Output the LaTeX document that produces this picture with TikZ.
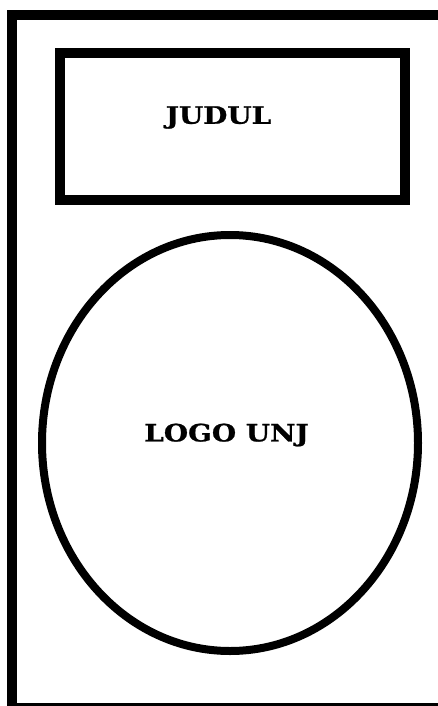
\documentclass[tikz,border=0pt]{standalone}
\usepackage{fontspec}
\usetikzlibrary{positioning,shapes.geometric}
\newfontfamily\slabfont[FakeStretch=1.16,FakeBold=1]{DejaVu Serif}

\begin{document}
\begin{tikzpicture}[
    x=0.75pt, y=-0.75pt,
    font=\slabfont\bfseries\fontsize{18}{20}\selectfont,
    frame/.style={draw, line width=7.5pt},
    titlebox/.style={rectangle, draw, line width=7.5pt, minimum width=258.75pt, minimum height=110.25pt, inner sep=0pt},
    logo/.style={ellipse, draw, line width=6pt, minimum width=282pt, minimum height=312pt, inner sep=0pt},
    caption/.style={inner sep=0pt}
]
\useasboundingbox (0,0) rectangle (438,706);
% --- Page frame ---
\draw[frame] (12,15) rectangle (443,708);

% --- Title box ---
\node[titlebox] (Box) at (232.5,126.5) {};
\node[caption] (Judul) at (218.5,117.5) {JUDUL};

% --- Logo ---
\node[logo] (Logo) at (230,443) {};
\node[caption] (LogoText) at (226.5,435) {LOGO UNJ};
\end{tikzpicture}
\end{document}
